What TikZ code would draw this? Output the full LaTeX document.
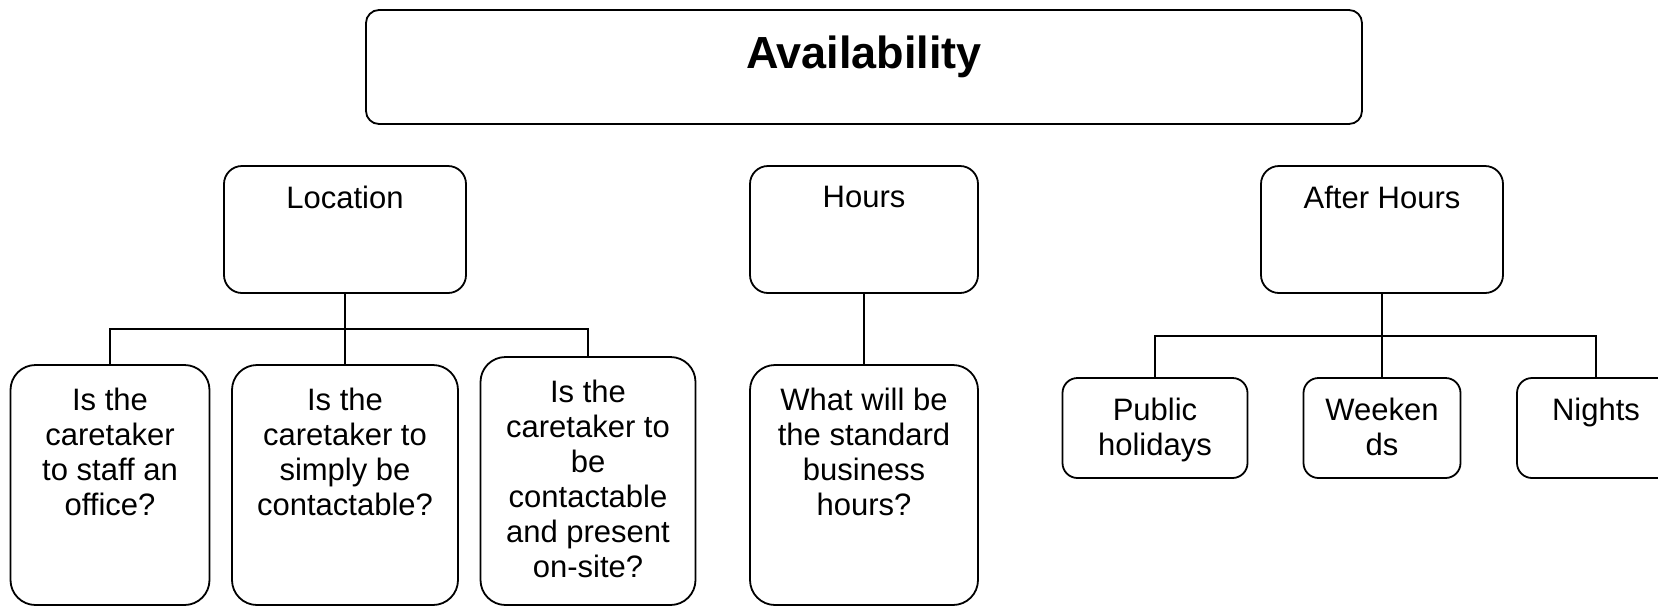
\documentclass[tikz,border=0pt]{standalone}
\usepackage{fontspec}
\setmainfont{Liberation Sans}
\usetikzlibrary{calc}
\begin{document}
\begin{tikzpicture}[x=1pt,y=-1pt,
  box/.style={draw,line width=1.8pt,rounded corners=18pt,inner sep=0pt},
  qbox/.style={box,rounded corners=25pt},
  sbox/.style={box,rounded corners=15pt},
  txt/.style={anchor=north,align=center,inner sep=0pt,font=\fontsize{31}{35}\selectfont},
  link/.style={line width=1.4pt}]
\useasboundingbox (0,0) rectangle (1658,606);
\clip (0,0) rectangle (1658,606);
% title
\node[box,rounded corners=13pt,minimum width=996pt,minimum height=114pt] (title) at (864,67) {};
\node[anchor=north,inner sep=0pt,font=\fontsize{45}{52}\selectfont\bfseries] (ttitle) at ($(title.north)+(0,27)$) {Availability};
% level 2
\node[box,minimum width=242pt,minimum height=127pt] (loc) at (345,229.5) {};
\node[box,minimum width=228pt,minimum height=127pt] (hrs) at (864,229.5) {};
\node[box,minimum width=242pt,minimum height=127pt] (ah) at (1382,229.5) {};
\node[txt] (tloc) at ($(loc.north)+(0,21)$) {Location};
\node[txt] (thrs) at ($(hrs.north)+(0,21)$) {Hours};
\node[txt] (tah) at ($(ah.north)+(0,21)$) {After Hours};
% location questions
\node[qbox,minimum width=199pt,minimum height=240pt] (q1) at (110,485) {};
\node[qbox,minimum width=226pt,minimum height=240pt] (q2) at (345,485) {};
\node[qbox,minimum width=215pt,minimum height=248pt] (q3) at (588,481) {};
\node[qbox,minimum width=228pt,minimum height=240pt] (q4) at (864,485) {};
\node[txt] (tq1) at ($(q1.north)+(0,24)$) {Is the\\caretaker\\to staff an\\office?};
\node[txt] (tq2) at ($(q2.north)+(0,24)$) {Is the\\caretaker to\\simply be\\contactable?};
\node[txt] (tq3) at ($(q3.north)+(0,24)$) {Is the\\caretaker to\\be\\contactable\\and present\\on-site?};
\node[txt] (tq4) at ($(q4.north)+(0,24)$) {What will be\\the standard\\business\\hours?};
% after hours items
\node[sbox,minimum width=185pt,minimum height=100pt] (ph) at (1155,428) {};
\node[sbox,minimum width=157pt,minimum height=100pt] (we) at (1382,428) {};
\node[sbox,minimum width=158pt,minimum height=100pt] (ni) at (1596,428) {};
\node[txt] (tph) at ($(ph.north)+(0,21)$) {Public\\holidays};
\node[txt] (twe) at ($(we.north)+(0,21)$) {Weeken\\ds};
\node[txt] (tni) at ($(ni.north)+(0,21)$) {Nights};
% connectors
\coordinate (lj) at (345,329);
\coordinate (aj) at (1382,336);
\draw[link] (loc.south) -- (q2.north);
\draw[link] (q1.north) |- (lj) -| (q3.north);
\draw[link] (hrs.south) -- (q4.north);
\draw[link] (ah.south) -- (we.north);
\draw[link] (ph.north) |- (aj) -| (ni.north);
\end{tikzpicture}
\end{document}
